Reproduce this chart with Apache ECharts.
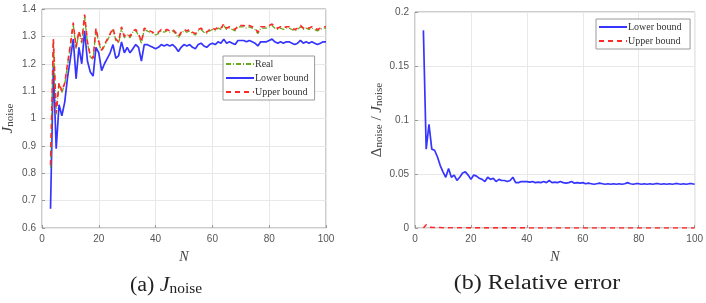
<!DOCTYPE html>
<html><head><meta charset="utf-8">
<script src="https://cdn.jsdelivr.net/npm/echarts@6/dist/echarts.min.js"></script>
<style>html,body{margin:0;padding:0;background:#fff}#c{width:706px;height:303px}</style>
</head><body><div id="c"></div>
<script>
// N from 3 to 100
const startN = 3;
const upperJ = [0.83,1.29,1.02,1.13,1.10,1.13,1.20,1.27,1.35,1.26,1.32,1.28,1.38,1.28,1.23,1.22,1.33,1.28,1.25,1.27,
1.29,1.31,1.33,1.29,1.28,1.335,1.30,1.31,1.30,1.32,1.325,1.31,1.28,1.33,1.325,1.32,1.315,1.31,
1.315,1.325,1.32,1.325,1.32,1.325,1.315,1.30,1.315,1.325,1.32,1.325,1.315,1.31,1.325,1.33,1.32,1.315,1.325,1.33,
1.325,1.335,1.33,1.345,1.33,1.335,1.33,1.325,1.34,1.34,1.34,1.335,1.34,1.335,1.33,1.315,1.335,1.335,1.335,1.34,
1.345,1.335,1.33,1.335,1.33,1.335,1.335,1.33,1.325,1.33,1.34,1.33,1.335,1.33,1.335,1.33,1.325,1.33,1.335,1.335];
const realJ = [0.82,1.285,1.015,1.125,1.095,1.125,1.195,1.265,1.345,1.255,1.315,1.275,1.375,1.275,1.225,1.215,1.325,1.275,1.245,1.265,
1.285,1.305,1.325,1.285,1.275,1.33,1.295,1.305,1.295,1.315,1.32,1.305,1.275,1.325,1.32,1.315,1.31,1.305,
1.31,1.32,1.315,1.32,1.315,1.32,1.31,1.295,1.31,1.32,1.315,1.32,1.31,1.305,1.32,1.325,1.315,1.31,1.32,1.325,
1.32,1.33,1.325,1.34,1.325,1.33,1.325,1.32,1.335,1.335,1.335,1.33,1.335,1.33,1.325,1.31,1.33,1.33,1.33,1.335,
1.34,1.33,1.325,1.33,1.325,1.33,1.33,1.325,1.32,1.325,1.335,1.325,1.33,1.325,1.33,1.325,1.32,1.325,1.33,1.33];
const lowerJ = [0.67,1.19,0.89,1.05,1.01,1.06,1.15,1.22,1.29,1.145,1.26,1.20,1.32,1.21,1.17,1.155,1.26,1.24,1.175,1.20,
1.22,1.24,1.27,1.22,1.23,1.28,1.24,1.26,1.24,1.255,1.27,1.26,1.21,1.27,1.27,1.265,1.26,1.255,
1.26,1.27,1.265,1.27,1.265,1.27,1.26,1.245,1.26,1.27,1.265,1.27,1.26,1.255,1.27,1.275,1.265,1.26,1.27,1.275,
1.27,1.28,1.275,1.29,1.275,1.28,1.275,1.27,1.285,1.285,1.285,1.28,1.285,1.28,1.275,1.265,1.28,1.28,1.28,1.285,
1.29,1.28,1.275,1.28,1.275,1.28,1.28,1.275,1.27,1.275,1.285,1.275,1.28,1.275,1.28,1.275,1.27,1.275,1.28,1.28];
const relLower = [0.183,0.073,0.096,0.073,0.072,0.066,0.058,0.052,0.047,0.055,0.047,0.049,0.044,0.047,0.051,0.052,0.049,0.045,0.049,0.048,
0.046,0.045,0.043,0.047,0.045,0.046,0.043,0.045,0.044,0.044,0.043,0.044,0.047,0.042,0.042,0.043,0.043,0.043,
0.0425,0.043,0.042,0.0425,0.042,0.043,0.042,0.044,0.042,0.0425,0.042,0.043,0.042,0.0415,0.042,0.043,0.0415,0.042,0.0415,0.042,
0.041,0.0415,0.041,0.0405,0.041,0.0415,0.041,0.0405,0.041,0.0405,0.041,0.0405,0.041,0.0405,0.041,0.042,0.041,0.0405,0.041,0.041,
0.0405,0.041,0.0405,0.041,0.0405,0.041,0.041,0.0405,0.041,0.0405,0.041,0.0405,0.041,0.041,0.0405,0.041,0.0405,0.041,0.041,0.0405];
const relUpper = [0.0,0.003,0.0008,0.0006,0.0005,0.0004,0.0004,0.0003,0.0003,0.0003,0.0002,0.0002,0.0002,0.0002,0.0002,0.0002,0.0001,0.0001,0.0001,0.0001,
0.0001,0.0001,0.0001,0.0001,0.0001,0.0001,0.0001,0.0001,0.0001,0.0001,0.0001,0.0001,0.0001,0.0001,0.0001,0.0001,0.0001,0.0001,
0,0,0,0,0,0,0,0,0,0,0,0,0,0,0,0,0,0,0,0,
0,0,0,0,0,0,0,0,0,0,0,0,0,0,0,0,0,0,0,0,
0,0,0,0,0,0,0,0,0,0,0,0,0,0,0,0,0,0,0,0];
const xTicks = [0,20,40,60,80,100];
const legendLeft = ['Real','Lower bound','Upper bound'];
const legendRight = ['Lower bound','Upper bound'];

function pairs(arr){ return arr.map((v,i)=>[startN+i, v]); }

const tickFont = {color:'#555', fontSize:10, fontFamily:'Liberation Sans, Arial, sans-serif'};
const gridLine = {show:true, lineStyle:{color:'#e8e8e8', width:1}};
const serif = 'Liberation Serif, Times New Roman, serif';

function xAx(idx){
  return {type:'value', gridIndex:idx, min:xTicks[0], max:xTicks[xTicks.length-1], interval:xTicks[1]-xTicks[0],
    axisLine:{show:false}, axisTick:{show:true, inside:true, length:3, lineStyle:{color:'#9a9a9a'}},
    axisLabel:Object.assign({margin:6}, tickFont), splitLine:gridLine,
    name:'N', nameLocation:'middle', nameGap:22,
    nameTextStyle:{fontFamily:serif, fontStyle:'italic', fontSize:14, color:'#444'}};
}
const BLUE = '#3535ff', RED = '#ff2828', GREEN = '#6aa81e';
const legendCommon = {orient:'vertical', itemGap:4, itemWidth:28, itemHeight:10,
  padding:[3,6,3,2], borderColor:'#9a9a9a', borderWidth:1, backgroundColor:'#fff',
  itemStyle:{opacity:0},
  textStyle:{fontFamily:serif, fontSize:10, color:'#333', padding:[0,0,0,-4]}};

const chart = echarts.init(document.getElementById('c'), null, {renderer:'canvas'});
chart.setOption({
  animation:false,
  backgroundColor:'#fff',
  grid:[
    {left:38, top:9, width:288, height:219, show:true, borderColor:'#9a9a9a', borderWidth:1, backgroundColor:'transparent'},
    {left:415, top:12, width:283, height:216, show:true, borderColor:'#9a9a9a', borderWidth:1, backgroundColor:'transparent'}
  ],
  xAxis:[xAx(0), xAx(1)],
  yAxis:[
    {type:'value', gridIndex:0, min:0.6, max:1.4, interval:0.1,
     axisLine:{show:false}, axisTick:{show:true, inside:true, length:3, lineStyle:{color:'#9a9a9a'}},
     axisLabel:Object.assign({margin:6}, tickFont), splitLine:gridLine,
     name:'{j|J}{s|noise}', nameLocation:'middle', nameGap:26, nameRotate:90,
     nameTextStyle:{rich:{
       j:{fontFamily:serif, fontStyle:'italic', fontSize:15, color:'#444', verticalAlign:'bottom', lineHeight:16},
       s:{fontFamily:serif, fontSize:11, color:'#444', verticalAlign:'bottom', lineHeight:12, padding:[4,0,0,0]}
     }}},
    {type:'value', gridIndex:1, min:0, max:0.2, interval:0.05,
     axisLine:{show:false}, axisTick:{show:true, inside:true, length:3, lineStyle:{color:'#9a9a9a'}},
     axisLabel:Object.assign({margin:6}, tickFont), splitLine:gridLine,
     name:'{d|Δ}{s|noise}{d| / }{j|J}{s|noise}', nameLocation:'middle', nameGap:30, nameRotate:90,
     nameTextStyle:{rich:{
       d:{fontFamily:serif, fontSize:15, color:'#444', verticalAlign:'bottom', lineHeight:16},
       j:{fontFamily:serif, fontStyle:'italic', fontSize:15, color:'#444', verticalAlign:'bottom', lineHeight:16},
       s:{fontFamily:serif, fontSize:11, color:'#444', verticalAlign:'bottom', lineHeight:12, padding:[4,0,0,0]}
     }}}
  ],
  legend:[
    Object.assign({data:legendLeft, left:223, top:56}, legendCommon),
    Object.assign({data:legendRight.map(n=>n+' '), left:596, top:19}, legendCommon)
  ],
  series:[
    {name:legendLeft[0], type:'line', xAxisIndex:0, yAxisIndex:0, data:pairs(realJ), showSymbol:false, symbol:'none',
     lineStyle:{color:GREEN, width:1.3, type:[5,2,1,2]}, itemStyle:{color:GREEN}, z:3},
    {name:legendLeft[1], type:'line', xAxisIndex:0, yAxisIndex:0, data:pairs(lowerJ), showSymbol:false, symbol:'none',
     lineStyle:{color:BLUE, width:1.7}, itemStyle:{color:BLUE}, z:2},
    {name:legendLeft[2], type:'line', xAxisIndex:0, yAxisIndex:0, data:pairs(upperJ), showSymbol:false, symbol:'none',
     lineStyle:{color:RED, width:1.6, type:[5,4]}, itemStyle:{color:RED}, z:4},
    {name:legendRight[0]+' ', type:'line', xAxisIndex:1, yAxisIndex:1, data:pairs(relLower), showSymbol:false, symbol:'none',
     lineStyle:{color:BLUE, width:1.7}, itemStyle:{color:BLUE}},
    {name:legendRight[1]+' ', type:'line', xAxisIndex:1, yAxisIndex:1, data:pairs(relUpper), showSymbol:false, symbol:'none',
     lineStyle:{color:RED, width:1.6, type:[5,4]}, itemStyle:{color:RED}}
  ],
  graphic:[
    {type:'text', x:166, y:284, scaleX:1.1, style:{text:'{t|(a) }{j|J}{s|noise}', align:'center', verticalAlign:'middle', rich:{
       t:{fontFamily:serif, fontSize:20, fill:'#222', verticalAlign:'bottom', lineHeight:24},
       j:{fontFamily:serif, fontStyle:'italic', fontSize:20, fill:'#222', verticalAlign:'bottom', lineHeight:24},
       s:{fontFamily:serif, fontSize:14, fill:'#222', verticalAlign:'bottom', lineHeight:18, padding:[7,0,0,0]}}}},
    {type:'text', x:537, y:284, scaleX:1.2, style:{text:'(b) Relative error', align:'center', verticalAlign:'middle', font:'20px ' + serif, fill:'#222'}}
  ]
});
</script></body></html>
